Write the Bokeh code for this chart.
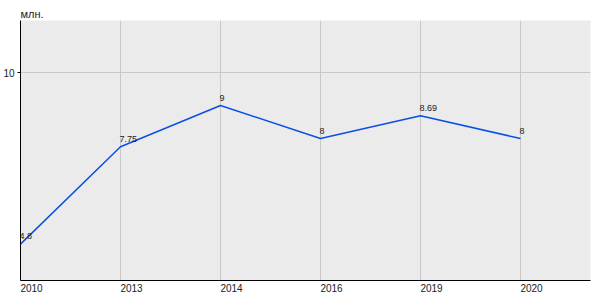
from bokeh.plotting import figure
from bokeh.models import Range1d, FixedTicker, ColumnDataSource, CustomJSTickFormatter
from bokeh.embed import file_html
from bokeh.resources import INLINE
from bokeh.core.properties import value

years = ["2010", "2013", "2014", "2016", "2019", "2020"]
values = [4.8, 7.75, 9, 8, 8.69, 8]
labels = ["4.8", "7.75", "9", "8", "8.69", "8"]

idx = list(range(len(years)))
src = ColumnDataSource(dict(x=idx, y=values, t=labels))

p = figure(width=600, height=300, output_backend="svg", toolbar_location=None,
           x_range=Range1d(0, 5.7), y_range=Range1d(3.697, 11.576),
           min_border_left=20, min_border_right=10, min_border_top=20, min_border_bottom=20)
p.background_fill_color = "#ebebeb"
p.border_fill_color = "white"
p.outline_line_color = None

p.title.text = "млн."
p.title.text_font = "Liberation Sans"
p.title.text_font_size = "11px"
p.title.text_font_style = "normal"
p.title.text_color = "#222222"
p.title.offset = 0
p.title.standoff = 2

p.line("x", "y", source=src, line_color="#0a4fe6", line_width=1.5)
p.text("x", "y", text="t", source=src, text_font=value("Liberation Sans"),
       text_font_size="9px", text_color="#222222", text_align="left",
       text_baseline="bottom", x_offset=-1, y_offset=-5)

# labels start at each category position (left aligned)
shift = 0.11
p.xaxis.ticker = FixedTicker(ticks=[i + shift for i in idx])
p.xaxis.formatter = CustomJSTickFormatter(args=dict(years=years, shift=shift),
                                          code="return years[Math.round(tick - shift)];")
p.yaxis.ticker = FixedTicker(ticks=[10])
for ax in (p.xaxis, p.yaxis):
    ax.axis_line_color = "black"
    ax.axis_line_width = 1
    ax.minor_tick_line_color = None
    ax.major_label_text_font = "Liberation Sans"
    ax.major_label_text_font_size = "10px"
    ax.major_label_text_color = "#222222"
p.xaxis.major_tick_line_color = None
p.xaxis.major_tick_in = 0
p.xaxis.major_tick_out = 0
p.xaxis.major_label_standoff = 3
p.yaxis.major_tick_in = 0
p.yaxis.major_tick_out = 3
p.yaxis.major_tick_line_color = "black"
p.yaxis.major_label_standoff = 3

p.xgrid.ticker = FixedTicker(ticks=idx)
p.ygrid.ticker = FixedTicker(ticks=[10])
p.grid.grid_line_color = "#c8c8c8"
p.grid.grid_line_width = 1

open("out.html", "w").write(file_html(p, INLINE))
